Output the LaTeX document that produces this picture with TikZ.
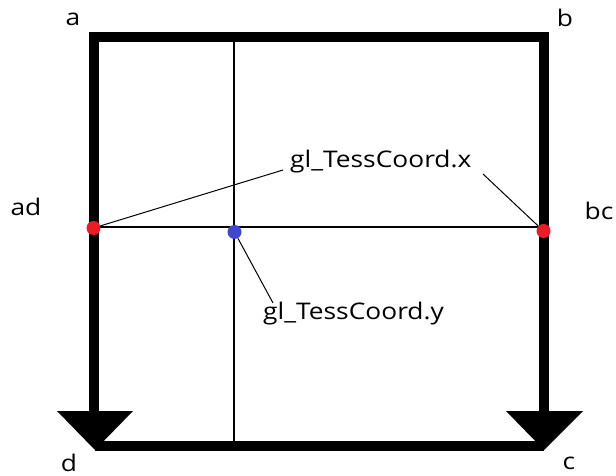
\documentclass[tikz,border=0pt]{standalone}
\usepackage{fontspec}
\setmainfont[FakeStretch=1.15]{Open Sans}
\begin{document}
\begin{tikzpicture}[x=1bp,y=-1bp,
  frame/.style={line width=10bp,line join=miter,line cap=butt},
  thin/.style={line width=1.6bp},
  leader/.style={line width=1bp},
  tip/.style={fill=black},
  lbl/.style={inner sep=0pt,font=\fontsize{23}{26}\selectfont},
  dot/.style={circle,inner sep=0pt,minimum size=14bp},
  reddot/.style={dot,fill=paintred},
  bluedot/.style={dot,fill=paintblue}]
\definecolor{paintred}{RGB}{237,28,36}
\definecolor{paintblue}{RGB}{63,72,204}
\useasboundingbox[fill=white] (0,0) rectangle (616,476);

% corner points of the patch
\coordinate (a) at (94,37);
\coordinate (b) at (544,37);
\coordinate (d) at (95,446);
\coordinate (c) at (544,446);
\coordinate (dl) at (94,412);
\coordinate (cl) at (544,412);
\coordinate (topmid) at (234,42);
\coordinate (botmid) at (234,441);

% inner iso-lines
\draw[thin] (topmid) -- (botmid);
\draw[thin] (94,227) -- (544,227);

% thick outline with arrowheads at d and c
\draw[frame] (dl) -- (a) -- (b) -- (cl);
\draw[frame] (d) -- (c);
\fill[tip] (57,411) -- (133,411) -- (95,450) -- cycle;
\fill[tip] (506,411) -- (583,411) -- (544,450) -- cycle;

% corner and edge labels
\node[lbl,anchor=base] (la) at (73,26) {a};
\node[lbl,anchor=base] (lb) at (565,27) {b};
\node[lbl,anchor=base] (lc) at (569,469) {c};
\node[lbl,anchor=base] (ld) at (69,471) {d};
\node[lbl,anchor=base] (lad) at (26,216) {ad};
\node[lbl,anchor=base] (lbc) at (599,220) {bc};

% tessellation coordinate labels
\node[lbl,anchor=base west] (tx) at (290,168) {gl\_TessCoord.x};
\node[lbl,anchor=base west] (ty) at (263,319) {gl\_TessCoord.y};

% sample points
\node[reddot] (pad) at (93.5,228) {};
\node[reddot] (pbc) at (543.5,231) {};
\node[bluedot] (pin) at (234.5,232) {};

% leaders
\coordinate (txl) at (283,170);
\coordinate (txr) at (483,174);
\coordinate (tyl) at (273,303);
\draw[leader] (pad) -- (txl);
\draw[leader] (txr) -- (pbc);
\draw[leader] (pin) -- (tyl);
\end{tikzpicture}
\end{document}
